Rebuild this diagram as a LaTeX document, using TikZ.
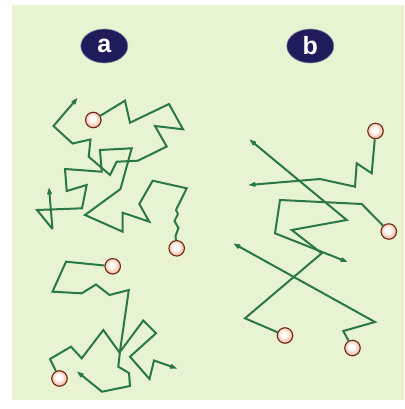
\documentclass[tikz,border=0pt]{standalone}
\usepackage{fontspec}
\setmainfont{Liberation Sans}
\usetikzlibrary{arrows.meta,shapes.geometric}
\definecolor{panel}{HTML}{E8F3D2}
\definecolor{walkgreen}{HTML}{2A7846}
\definecolor{badgeblue}{HTML}{201C5C}
\definecolor{ballrim}{HTML}{6E2818}
\definecolor{ballfill}{HTML}{EC8E5A}
\pgfdeclareradialshading{ballshade}{\pgfpoint{-4bp}{5bp}}{color(0bp)=(white); color(9bp)=(white); color(23bp)=(ballfill!55!white); color(32bp)=(ballfill); color(50bp)=(ballfill)}
\tikzset{
  walk/.style={draw=walkgreen, line width=2pt, line join=miter, miter limit=3},
  walkarrow/.style={walk, -{Stealth[length=9pt,width=7pt]}},
  ball/.style={circle, minimum size=15.5pt, inner sep=0pt, draw=ballrim, line width=1.1pt,
    shading=ballshade},
  badge/.style={ellipse, minimum width=47pt, minimum height=34pt, inner sep=0pt,
    fill=badgeblue, draw=badgeblue!55!white, line width=0.6pt, text=white,
    font=\fontsize{25}{25}\selectfont\bfseries}
}
\begin{document}
\begin{tikzpicture}[x=1pt,y=-1pt]
\useasboundingbox (0,0) rectangle (404,409);
\fill[white] (0,0) rectangle (404,409);
\fill[panel] (12,5) rectangle (404,400);

% badges
\node[badge] (la) at (104.3,46) {a};
\node[badge] (lb) at (310.3,46) {b};

% balls (start points)
\node[ball] (cA) at (176.7,248.3) {};
\node[ball] (cB) at (93.3,120) {};
\node[ball] (cC) at (112.7,266.3) {};
\node[ball] (cD) at (59.5,378.5) {};
\node[ball] (cE) at (375.5,131) {};
\node[ball] (cF) at (388.8,231.5) {};
\node[ball] (cG) at (285,335.5) {};
\node[ball] (cH) at (352.5,348) {};

% panel a, top
\draw[walkarrow] (cA) -- (175.5,236) -- (178.5,228) -- (174.5,221) -- (178,214) -- (176,210)
  -- (186.7,188.3) -- (152.7,180.7) -- (139.3,204) -- (149.3,221.7) -- (122.7,212.7)
  -- (122.7,231.7) -- (85,215) -- (120.5,189) -- (131.7,148.3) -- (100,150)
  -- (101.7,171.7) -- (65,169) -- (66.7,191) -- (86.7,185) -- (82,208.3) -- (37,210)
  -- (52.5,229) -- (49,187.5);
\draw[walkarrow] (cB) -- (125,100.7) -- (130,122.7) -- (169,104) -- (183,129.3)
  -- (155,126) -- (166.7,146.5) -- (138,160.7) -- (116.7,161.7) -- (110,175)
  -- (88.7,156.7) -- (90.5,139.5) -- (72.5,143.5) -- (53.5,126) -- (77.5,98);

% panel a, bottom
\draw[walkarrow] (cC) -- (66,261.7) -- (52.5,291.7) -- (81.7,293.3) -- (96,284.5)
  -- (109.5,295) -- (128.8,290) -- (120,351) -- (118.3,366.7) -- (129,373)
  -- (130,386) -- (102,391.7) -- (77,371.5);
\draw[walkarrow] (cD) -- (50,359) -- (71,346.7) -- (81.7,358.3) -- (103.3,330)
  -- (119.5,352.5) -- (143.3,320.5) -- (156,333.3) -- (130,356.7) -- (149.5,379)
  -- (154,360.5) -- (177,368.5);

% panel b
\draw[walkarrow] (cE) -- (371.7,173.3) -- (356.7,163.3) -- (355,186.7) -- (320,179)
  -- (248.5,185);
\draw[walkarrow] (cF) -- (361.7,204) -- (280,200) -- (275,233.3) -- (347.5,262);
\draw[walkarrow] (cG) -- (245,318.3) -- (321.7,253.3) -- (291.7,230) -- (346.7,220)
  -- (249.5,139.5);
\draw[walkarrow] (cH) -- (343.3,331) -- (375,322) -- (233.5,243.5);
\end{tikzpicture}
\end{document}
